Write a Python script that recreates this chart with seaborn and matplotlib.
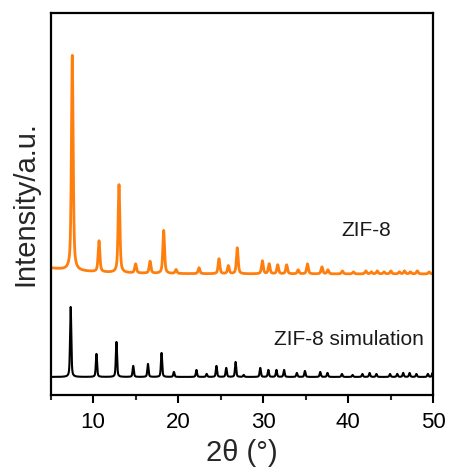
import numpy as np
import pandas as pd
import matplotlib
matplotlib.use("Agg")
import matplotlib.pyplot as plt
import seaborn as sns
from matplotlib.ticker import MultipleLocator

# ---- data (2theta in degrees, intensity in a.u.) ----
zif8_pos = [7.56, 10.70, 13.05, 15.0, 16.7, 18.3, 19.75, 22.45, 24.8, 25.9, 26.95,
            29.9, 30.7, 31.7, 32.75, 34.1, 35.2, 36.9, 37.6, 39.3, 40.6, 42.05,
            42.7, 43.4, 44.2, 45.0, 46.0, 46.6, 47.3, 48.1, 49.5]
zif8_int = [215, 31, 88, 9, 12, 43, 4, 6, 15, 8, 26,
            13, 10, 9, 9, 4, 10, 7, 4, 3, 2, 3,
            2, 3, 2, 3, 2, 3, 2, 3, 2]
zif8_offset = 121
zif8_bg = 6

sim_pos = [7.37, 10.40, 12.75, 14.72, 16.45, 18.05, 19.50, 22.15, 23.35, 24.50, 25.65,
           26.75, 27.7, 29.65, 30.60, 31.55, 32.45, 33.95, 34.9, 36.70, 37.55, 39.25,
           40.5, 41.65, 42.5, 43.3, 44.9, 45.75, 46.45, 47.2, 48.0, 49.35, 49.9]
sim_int = [70, 23, 35, 11, 13, 24, 5, 7, 3, 11, 9,
           15, 2, 9, 7, 7, 7, 4, 6, 5, 4, 3,
           2, 3, 4, 3, 3, 3, 4, 4, 3, 3, 4]
sim_offset = 18

labels = ["ZIF-8", "ZIF-8 simulation"]
colors = ["#ff7f0e", "#000000"]


def profile(x, pos, inten, fwhm, eta=0.6):
    y = np.zeros_like(x)
    g = fwhm / 2.3548
    for p, h in zip(pos, inten):
        lor = 1.0 / (1.0 + ((x - p) / (fwhm / 2)) ** 2)
        gau = np.exp(-0.5 * ((x - p) / g) ** 2)
        y += h * (eta * lor + (1 - eta) * gau)
    return y


x = np.linspace(5, 50, 4501)
y_zif = zif8_offset + zif8_bg * np.exp(-(x - 5) / 5) + profile(x, zif8_pos, zif8_int, 0.24)
y_sim = sim_offset + profile(x, sim_pos, sim_int, 0.17, eta=0.5)

df = pd.concat([
    pd.DataFrame({"x": x, "y": y_zif, "s": labels[0]}),
    pd.DataFrame({"x": x, "y": y_sim, "s": labels[1]}),
])

sns.set_theme(style="ticks")
plt.rcParams["font.family"] = ["Liberation Sans", "DejaVu Sans"]

fig = plt.figure(figsize=(4.51, 4.73), dpi=100)
ax = fig.add_axes([0.112, 0.165, 0.849, 0.8075])

sns.lineplot(data=df, x="x", y="y", hue="s", palette=dict(zip(labels, colors)),
             ax=ax, legend=False, linewidth=1.6, sort=False, estimator=None)
for ln, lw in zip(ax.get_lines(), [2.0, 1.5]):
    ln.set_linewidth(lw)

ax.set_xlim(5, 50)
ax.set_ylim(0, 382)
ax.set_yticks([])
ax.xaxis.set_major_locator(MultipleLocator(10))
ax.xaxis.set_minor_locator(MultipleLocator(5))
ax.tick_params(axis="x", which="major", direction="out", length=5.5, width=1.5,
               labelsize=16, pad=7, colors="black")
ax.tick_params(axis="x", which="minor", direction="out", length=3.5, width=1.5)
for sp in ax.spines.values():
    sp.set_visible(True)
    sp.set_linewidth(1.6)
    sp.set_color("black")

ax.set_xlabel("2θ (°)", fontsize=21, labelpad=4)
ax.set_ylabel("Intensity/a.u.", fontsize=21, labelpad=8)

ax.text(42.15, 164, "ZIF-8", fontsize=15, ha="center", va="center", color="#1a1a1a")
ax.text(40.1, 55, "ZIF-8 simulation", fontsize=15, ha="center", va="center", color="#1a1a1a")

fig.savefig("out.png", dpi=100)
